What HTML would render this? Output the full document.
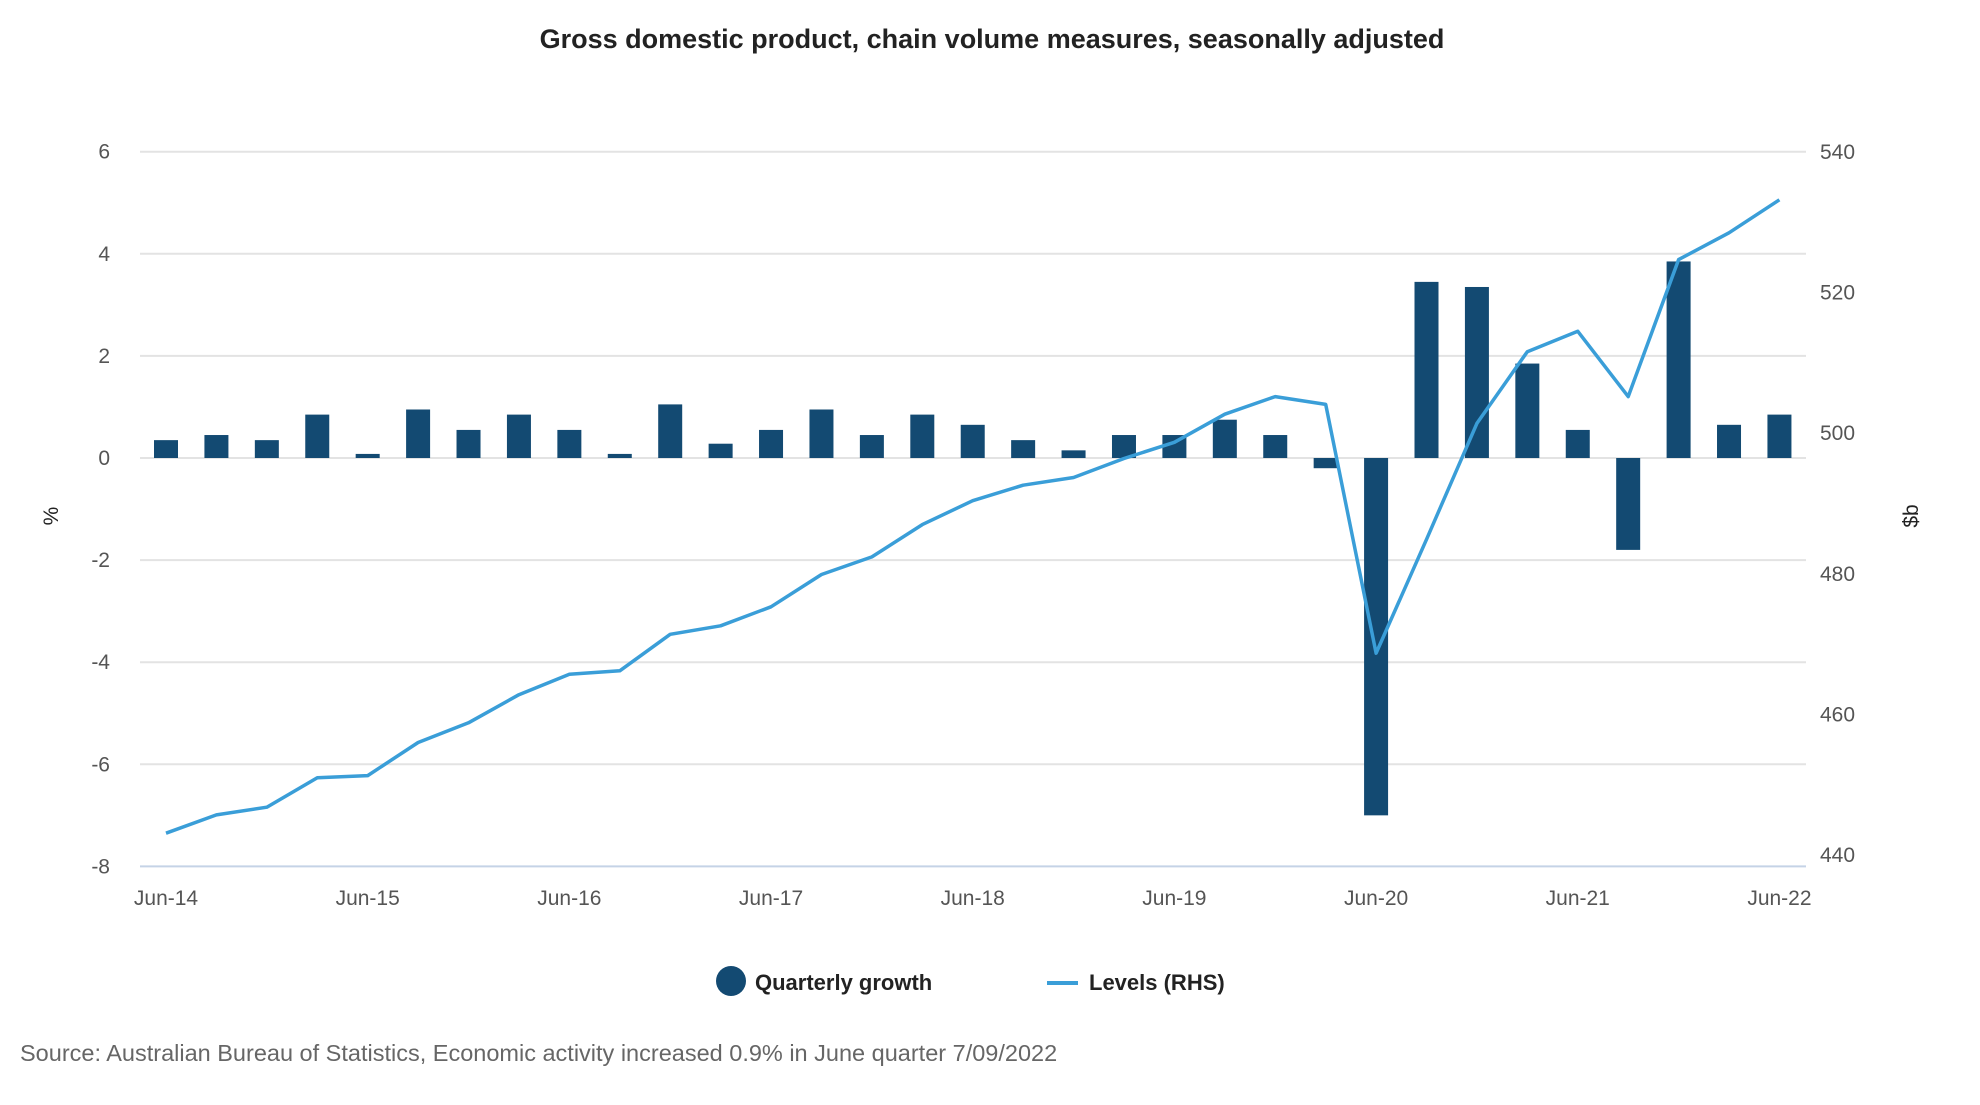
<!DOCTYPE html>
<html><head><meta charset="utf-8"><style>
body{margin:0;background:#fff;}
svg text{font-family:"Liberation Sans",sans-serif;}
</style></head><body>
<svg id="chart" width="1980" height="1100" viewBox="0 0 1980 1100" xmlns="http://www.w3.org/2000/svg">
<text x="992" y="48" text-anchor="middle" font-size="27" font-weight="bold" fill="#222">Gross domestic product, chain volume measures, seasonally adjusted</text>
<g id="grid"></g><g id="bars"></g><g id="line"></g><g id="axes"></g>
<text transform="translate(58,516) rotate(-90)" text-anchor="middle" font-size="21" fill="#222">%</text>
<text transform="translate(1918,516) rotate(-90)" text-anchor="middle" font-size="21" fill="#222">$b</text>
<g>
<circle cx="731" cy="981" r="15" fill="#134a72"/>
<text x="755" y="990" font-size="22" font-weight="bold" fill="#222">Quarterly growth</text>
<line x1="1047" y1="983" x2="1078" y2="983" stroke="#3a9ed8" stroke-width="4"/>
<text x="1089" y="990" font-size="22" font-weight="bold" fill="#222">Levels (RHS)</text>
</g>
<text x="20" y="1061" font-size="23.5" fill="#666">Source: Australian Bureau of Statistics, Economic activity increased 0.9% in June quarter 7/09/2022</text>
</svg>
<script>
const growth=[0.35,0.45,0.35,0.85,0.08,0.95,0.55,0.85,0.55,0.08,1.05,0.28,0.55,0.95,0.45,0.85,0.65,0.35,0.15,0.45,0.45,0.75,0.45,-0.2,-7.0,3.45,3.35,1.85,0.55,-1.8,3.85,0.65,0.85];
const levels=[443.1,445.7,446.8,451.0,451.3,456.0,458.8,462.8,465.7,466.2,471.4,472.6,475.3,479.9,482.4,487.0,490.4,492.6,493.7,496.4,498.7,502.7,505.2,504.1,468.7,484.9,501.4,511.6,514.5,505.2,524.7,528.5,533.2];
const xLabels=["Jun-14","Jun-15","Jun-16","Jun-17","Jun-18","Jun-19","Jun-20","Jun-21","Jun-22"];
const leftTicks=[6,4,2,0,-2,-4,-6,-8];
const rightTicks=[540,520,500,480,460,440];
const NS="http://www.w3.org/2000/svg";
const x0=166,step=50.42;
const xPos=i=>x0+i*step;
const yL=v=>458-v*51.05;
const yR=v=>152+(540-v)*(855-152)/100;
function mk(tag,attrs,parent,txt){const e=document.createElementNS(NS,tag);for(const k in attrs)e.setAttribute(k,attrs[k]);if(txt!=null)e.textContent=txt;parent.appendChild(e);return e;}
const grid=document.getElementById('grid'),axes=document.getElementById('axes');
leftTicks.forEach(t=>{
  const g=mk('line',{x1:140,x2:1806,y1:yL(t),y2:yL(t),stroke:t===-8?'#c5d3e6':'#e3e3e3','stroke-width':2},grid);
  
  
  const l=mk('text',{x:110,y:yL(t)+7,'text-anchor':'end','font-size':21,fill:'#555'},axes,String(t));
  
  
});
rightTicks.forEach(t=>{
  const l=mk('text',{x:1820,y:yR(t)+7,'font-size':21,fill:'#555'},axes,String(t));
  
  
});
xLabels.forEach((s,i)=>{
  const l=mk('text',{x:xPos(i*4),y:905,'text-anchor':'middle','font-size':21,fill:'#555'},axes,s);
  
  
});
const bars=document.getElementById('bars');
growth.forEach((v,i)=>{
  const y=Math.min(yL(v),yL(0)),h=Math.abs(yL(v)-yL(0));
  const r=mk('rect',{x:xPos(i)-12,y:y,width:24,height:Math.max(h,1),fill:'#134a72'},bars);
  
  
});
const pts=levels.map((v,i)=>xPos(i).toFixed(1)+','+yR(v).toFixed(1)).join(' ');
const pl=mk('polyline',{points:pts,fill:'none',stroke:'#3a9ed8','stroke-width':3.5,'stroke-linejoin':'round'},document.getElementById('line'));


</script>
</body></html>
